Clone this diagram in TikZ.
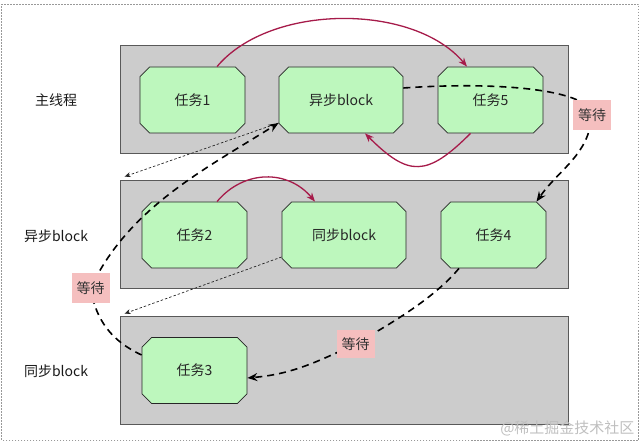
\documentclass[tikz,border=0pt]{standalone}
\usepackage{fontspec}
\setmainfont{Noto Sans CJK SC}
\usetikzlibrary{shapes.misc,arrows.meta,calc}
\definecolor{bandgray}{HTML}{CCCCCC}
\definecolor{taskgreen}{HTML}{BDF7BD}
\definecolor{waitpink}{HTML}{F5BFBF}
\definecolor{arcred}{HTML}{A61B4A}
\begin{document}
\begin{tikzpicture}[x=1pt,y=1pt,font=\fontsize{14}{16}\selectfont,
  band/.style={draw=black!65,fill=bandgray,line width=0.8pt,minimum width=448pt,minimum height=108pt,inner sep=0pt},
  task/.style={chamfered rectangle,chamfered rectangle xsep=6pt,draw=black!85,fill=taskgreen,line width=0.8pt,minimum height=66pt,minimum width=105pt,inner sep=0pt,text=black!85},
  blocktask/.style={task,minimum width=124pt},
  rowlabel/.style={text=black!90},
  waitbox/.style={fill=waitpink,minimum width=38pt,minimum height=30pt,inner sep=1pt,text=black!80},
  redarc/.style={draw=arcred,line width=1.3pt,-{Stealth[length=9pt,width=7pt]}},
  waitline/.style={draw=black,line width=1.6pt,dash pattern=on 7pt off 5pt,-{Stealth[length=10pt,width=8pt]}},
  thinarrow/.style={draw=black!85,line width=0.7pt,dash pattern=on 2.5pt off 2pt,-{Stealth[length=6pt,width=5pt]}},
  watermarktext/.style={text=black!25,font=\fontsize{15}{17}\selectfont}
]
\useasboundingbox (0,0) rectangle (640,441);
\draw[black!40,line width=0.5pt,dash pattern=on 1.5pt off 1.5pt] (1.5,1) rectangle (638.5,436.5);

% bands
\node[band] (b1) at (344,342) {};
\node[band] (b2) at (344,207) {};
\node[band] (b3) at (344,71) {};

% row labels
\node[rowlabel] (l1) at (56,341) {主线程};
\node[rowlabel] (l2) at (56,205) {异步block};
\node[rowlabel] (l3) at (56,70) {同步block};

% tasks
\node[task] (t1) at (192.5,341) {任务1};
\node[blocktask] (ab) at (341,341) {异步block};
\node[task] (t5) at (490.5,341) {任务5};
\node[task] (t2) at (194.5,206) {任务2};
\node[blocktask] (sb) at (344,206) {同步block};
\node[task] (t4) at (493.5,206) {任务4};
\node[task] (t3) at (194.5,70.5) {任务3};

% wait label positions
\coordinate (w1c) at (592,325.5);
\coordinate (w2c) at (90.5,152.5);
\coordinate (w3c) at (355.5,97);

% red arcs
\draw[redarc] ([xshift=24.5pt]t1.north) to[out=50,in=130,looseness=0.85] ([xshift=-23.5pt]t5.north);
\draw[redarc] ([xshift=-20pt]t5.south) to[out=-135,in=-45,looseness=1.5] ([xshift=24pt]ab.south);
\draw[redarc] ([xshift=22.5pt]t2.north) to[out=50,in=130,looseness=1.1] ([xshift=-29pt]sb.north);

% thin dotted arrows
\draw[thinarrow] ([yshift=-23pt]ab.west) -- ([xshift=5pt,yshift=3pt]b2.north west);
\draw[thinarrow] ([yshift=-22pt]sb.west) -- ([xshift=5pt,yshift=2pt]b3.north west);

% waiting connectors
\draw[waitline] ([yshift=12pt]ab.east) to[out=4,in=90,out distance=100pt,in distance=25pt] (w1c) to[out=-95,in=55] ([xshift=43pt]t4.north);
\draw[waitline] ([yshift=15.5pt]t3.west) to[out=155,in=-80] (w2c) to[out=65,in=-148,looseness=0.9] ([yshift=-23pt]ab.west);
\draw[waitline] ([xshift=-34.5pt]t4.south) to[out=-130,in=30,looseness=0.8] (w3c) to[out=-155,in=5] ([yshift=-7.5pt]t3.east);

% wait labels
\node[waitbox] (w1) at (w1c) {等待};
\node[waitbox] (w2) at (w2c) {等待};
\node[waitbox,minimum height=28pt] (w3) at (w3c) {等待};

% watermark
\node[watermarktext,anchor=east] (wm) at (638,13) {@稀土掘金技术社区};
\end{tikzpicture}
\end{document}
